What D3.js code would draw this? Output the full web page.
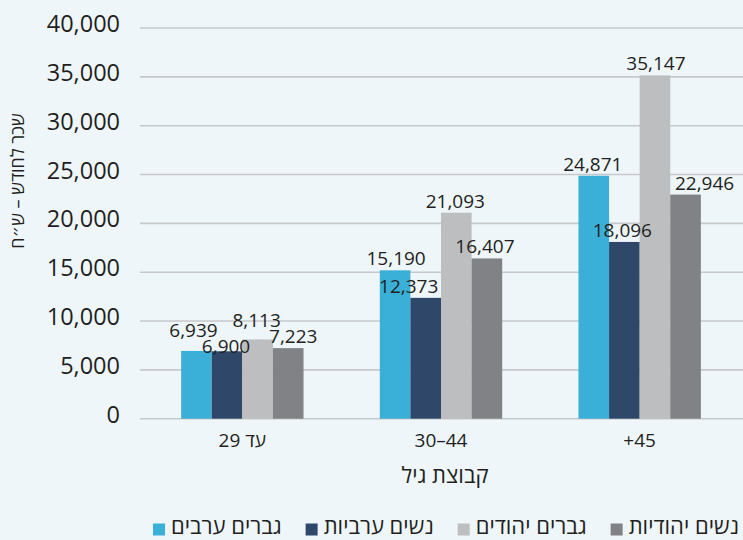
<!DOCTYPE html>
<html lang="he">
<head>
<meta charset="utf-8">
<script src="https://cdn.jsdelivr.net/npm/d3@7"></script>
<style>
  html, body { margin: 0; padding: 0; background: #eef6fa; }
  svg { display: block; font-family: "Open Sans", "DejaVu Sans", sans-serif; }
</style>
</head>
<body>
<svg id="chart" width="743" height="540"></svg>
<script>
// Monthly wage (NIS) by age group
const ageGroups = ["עד 29", "30–44", "+45"];
const seriesNames = ["גברים ערבים", "נשים ערביות", "גברים יהודים", "נשים יהודיות"];
const arabMen = [6939, 15190, 24871];
const arabWomen = [6900, 12373, 18096];
const jewishMen = [8113, 21093, 35147];
const jewishWomen = [7223, 16407, 22946];
const yTicks = [0, 5000, 10000, 15000, 20000, 25000, 30000, 35000, 40000];

const seriesValues = [arabMen, arabWomen, jewishMen, jewishWomen];
const colors = ["#3aafd7", "#2f4869", "#bcbec0", "#808285"];

// small nudges [dx, dy] so crowded value labels stay readable
const labelNudge = [
  [[-3, -9], [-1, 7], [-1, -7], [5, 0]],
  [[1, 0], [-17, 0], [-1, 0], [-2, 0]],
  [[-1, 0], [-2, 0], [1, 0], [19, 0]]
];

const W = 743, H = 540;
const svg = d3.select("#chart");
svg.append("rect").attr("width", W).attr("height", H).attr("fill", "#eef6fa");

const x = d3.scaleBand().domain(ageGroups).range([143, 739])
  .paddingInner(0.384).paddingOuter(0.192);
const x1 = d3.scaleBand().domain(d3.range(seriesNames.length)).range([0, x.bandwidth()]);
const y = d3.scaleLinear().domain([0, 40000]).range([418.7, 28]);

const fmt = d3.format(",");
const ink = "#231f20";

// gridlines
svg.append("g").selectAll("line").data(yTicks).join("line")
  .attr("x1", 140).attr("x2", W)
  .attr("y1", d => y(d)).attr("y2", d => y(d))
  .attr("stroke", "#c6c8ca").attr("stroke-width", 1.6);

// y tick labels
const yAxis = d3.axisLeft(y).tickValues(yTicks).tickFormat(fmt).tickSize(0).tickPadding(0);
const gy = svg.append("g").attr("transform", "translate(120,0)").call(yAxis);
gy.select(".domain").remove();
gy.selectAll("text").attr("font-size", 23.5).attr("fill", ink)
  .attr("font-family", "'Open Sans', sans-serif").attr("dy", "0.32em")
  .attr("y", -4);

// bars
const groups = svg.append("g").selectAll("g").data(ageGroups).join("g")
  .attr("transform", d => `translate(${x(d)},0)`);
groups.selectAll("rect")
  .data((g, gi) => seriesValues.map((vals, si) => ({ si, v: vals[gi] })))
  .join("rect")
  .attr("x", d => x1(d.si)).attr("width", x1.bandwidth())
  .attr("y", d => y(d.v)).attr("height", d => y(0) - y(d.v))
  .attr("fill", d => colors[d.si]);

// value labels
groups.selectAll("text")
  .data((g, gi) => seriesValues.map((vals, si) => ({ si, gi, v: vals[gi] })))
  .join("text")
  .attr("x", d => x1(d.si) + x1.bandwidth() / 2 + labelNudge[d.gi][d.si][0])
  .attr("y", d => y(d.v) - 5 + labelNudge[d.gi][d.si][1])
  .attr("text-anchor", "middle").attr("font-size", 19).attr("fill", ink)
  .text(d => fmt(d.v));

// x axis labels
const xAxis = d3.axisBottom(x).tickSize(0).tickPadding(0);
const gx = svg.append("g").attr("transform", "translate(0,447)").call(xAxis);
gx.select(".domain").remove();
gx.selectAll("text").attr("font-size", 19).attr("fill", ink)
  .attr("font-family", "'Open Sans', sans-serif").attr("dy", 0)
  .attr("direction", d => /[\u0590-\u05FF]/.test(d) ? "rtl" : "ltr");

// axis titles
svg.append("text").attr("x", 445).attr("y", 483)
  .attr("text-anchor", "middle").attr("direction", "rtl")
  .attr("font-size", 22).attr("fill", ink).text("קבוצת גיל");

svg.append("text").attr("transform", "translate(24,181) rotate(-90)")
  .attr("text-anchor", "middle").attr("direction", "rtl")
  .attr("font-size", 18).attr("fill", ink).text("שכר לחודש – ש״ח");

// legend, laid out from the right edge
const legend = svg.append("g");
let cursor = 739;
for (let i = seriesNames.length - 1; i >= 0; i--) {
  const t = legend.append("text").attr("x", cursor).attr("y", 534)
    .attr("text-anchor", "end").attr("font-size", 22).attr("fill", ink)
    .text(seriesNames[i]);
  const w = t.node().getComputedTextLength();
  const sqRight = cursor - w - 6;
  legend.append("rect").attr("x", sqRight - 12).attr("y", 523.5)
    .attr("width", 12).attr("height", 12).attr("fill", colors[i]);
  cursor = sqRight - 12 - 24;
}
</script>
</body>
</html>
